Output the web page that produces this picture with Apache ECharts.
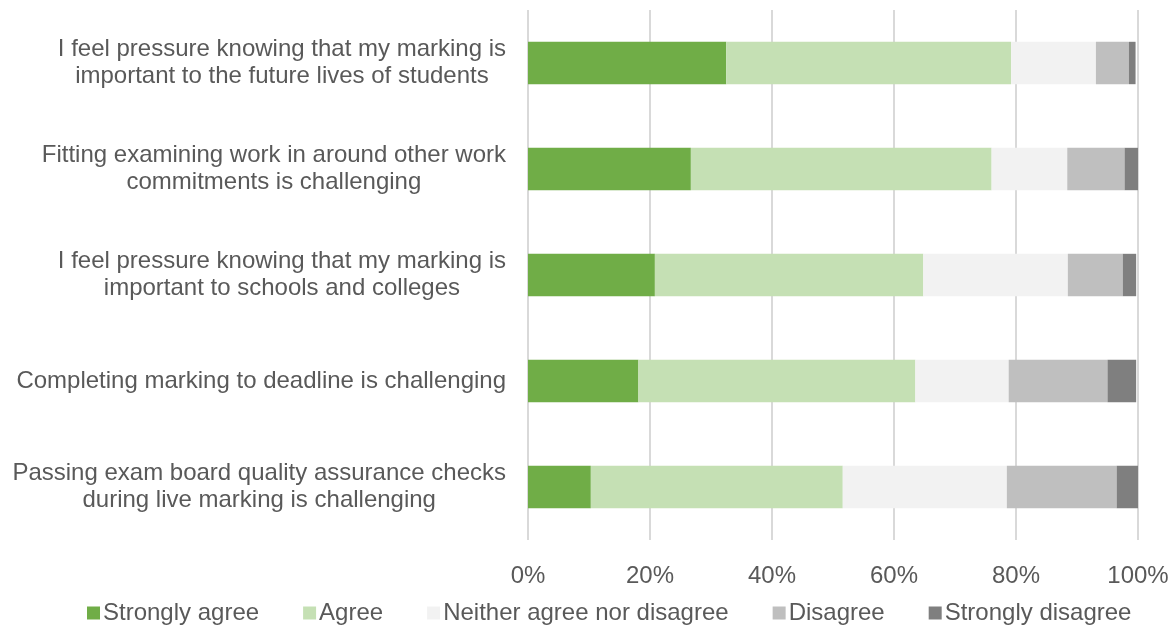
<!DOCTYPE html>
<html>
<head>
<meta charset="utf-8">
<script src="https://cdn.jsdelivr.net/npm/echarts@6/dist/echarts.min.js"></script>
<style>
  html, body { margin: 0; padding: 0; background: #fff; }
  #chart { width: 1173px; height: 627px; }
</style>
</head>
<body>
<div id="chart"></div>
<script>
// Survey statements, listed top to bottom
const categories = [
  'I feel pressure knowing that my marking is\nimportant to the future lives of students',
  'Fitting examining work in around other work\ncommitments is challenging',
  'I feel pressure knowing that my marking is\nimportant to schools and colleges',
  'Completing marking to deadline is challenging',
  'Passing exam board quality assurance checks\nduring live marking is challenging'
];

// Response shares (%) per statement, same order as categories
const stronglyAgree    = [32.5, 26.7, 20.8, 18.1, 10.3];
const agree            = [46.7, 49.3, 44.0, 45.4, 41.3];
const neither          = [13.9, 12.4, 23.7, 15.3, 26.9];
const disagree         = [5.4, 9.4, 9.0, 16.2, 18.0];
const stronglyDisagree = [1.1, 2.2, 2.2, 4.7, 3.5];

const seriesNames = ['Strongly agree', 'Agree', 'Neither agree nor disagree', 'Disagree', 'Strongly disagree'];
const seriesData = [stronglyAgree, agree, neither, disagree, stronglyDisagree];
const seriesColors = ['#70AD47', '#C5E0B4', '#F2F2F2', '#BFBFBF', '#7F7F7F'];

const tickValues = [0, 20, 40, 60, 80, 100];

const FONT = '"Liberation Sans", Arial, sans-serif';
const TEXT = '#595959';

const chart = echarts.init(document.getElementById('chart'), null, { renderer: 'canvas' });

chart.setOption({
  animation: false,
  backgroundColor: '#ffffff',
  grid: { left: 528, right: 35, top: 10, bottom: 87, containLabel: false },
  legend: {
    left: 82,
    top: 596,
    itemWidth: 13,
    itemHeight: 13,
    itemGap: 44,
    icon: 'rect',
    textStyle: { color: TEXT, fontSize: 24, fontFamily: FONT, padding: [0, 0, 0, -2] },
    data: seriesNames
  },
  xAxis: {
    type: 'value',
    min: tickValues[0],
    max: tickValues[tickValues.length - 1],
    interval: tickValues[1] - tickValues[0],
    axisLine: { show: false },
    axisTick: { show: false },
    splitLine: { show: true, lineStyle: { color: '#D9D9D9', width: 2 } },
    axisLabel: {
      color: TEXT, fontSize: 24, fontFamily: FONT, margin: 24,
      formatter: v => v + '%'
    }
  },
  yAxis: {
    type: 'category',
    inverse: true,
    data: categories,
    axisLine: { show: false },
    axisTick: { show: false },
    splitLine: { show: false },
    axisLabel: {
      margin: 22,
      align: 'right',
      lineHeight: 27,
      formatter: v => v.split('\n').map(s => '{c|' + s + '}').join('\n'),
      rich: {
        c: { color: TEXT, fontSize: 24, fontFamily: FONT, lineHeight: 27, align: 'center' }
      }
    }
  },
  series: seriesNames.map((name, i) => ({
    name,
    type: 'bar',
    stack: 'total',
    barCategoryGap: '60%',
    itemStyle: { color: seriesColors[i] },
    data: seriesData[i]
  }))
});
</script>
</body>
</html>
